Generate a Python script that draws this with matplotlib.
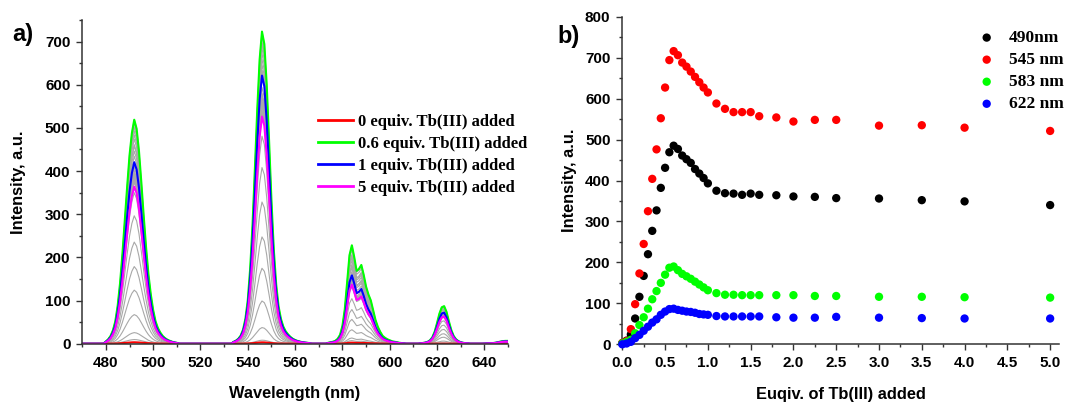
import numpy as np
import matplotlib.pyplot as plt
from matplotlib.ticker import MultipleLocator

# equivalents of Tb(III) added at each titration step
equiv = [0, 0.05, 0.1, 0.15, 0.2, 0.25, 0.3, 0.35, 0.4, 0.45, 0.5,
         0.55, 0.6, 0.65, 0.7, 0.75, 0.8, 0.85, 0.9, 0.95, 1.0,
         1.1, 1.2, 1.3, 1.4, 1.5, 1.6, 1.8, 2.0, 2.25, 2.5,
         3.0, 3.5, 4.0, 5.0]

# emission intensity at the four Tb(III) bands
i490 = [3, 9, 24, 63, 116, 167, 220, 277, 327, 382, 431,
        469, 485, 477, 461, 452, 443, 428, 417, 406, 393,
        375, 369, 368, 365, 368, 365, 364, 361, 360, 357,
        356, 352, 349, 340]
i545 = [3, 8, 37, 98, 173, 245, 325, 404, 476, 552, 627,
        694, 716, 706, 688, 678, 666, 653, 640, 627, 615,
        588, 575, 567, 567, 567, 557, 554, 544, 548, 548,
        534, 535, 529, 521]
i583 = [2, 6, 11, 27, 47, 66, 87, 110, 130, 150, 170,
        187, 190, 181, 172, 166, 160, 153, 146, 139, 132,
        125, 121, 121, 120, 120, 120, 120, 120, 118, 118,
        116, 116, 115, 114]
i622 = [0, 2, 6, 15, 23, 33, 43, 53, 61, 72, 80,
        86, 87, 84, 82, 80, 79, 77, 74, 73, 72,
        69, 68, 68, 68, 68, 68, 66, 65, 65, 67,
        65, 64, 63, 63]

# normalised band shapes, 1 nm steps, first value at the given wavelength
shape_490 = [0.01, 0.02, 0.035, 0.06, 0.10, 0.17, 0.27, 0.40, 0.55, 0.70,
             0.84, 0.94, 1.00, 0.96, 0.86, 0.72, 0.57, 0.43, 0.31, 0.22,
             0.15, 0.10, 0.07, 0.05, 0.035, 0.025, 0.018, 0.013, 0.009,
             0.006, 0.004]
shape_545 = [0.006, 0.01, 0.016, 0.026, 0.045, 0.08, 0.14, 0.24, 0.38, 0.56,
             0.75, 0.91, 1.00, 0.96, 0.83, 0.65, 0.46, 0.30, 0.19, 0.12,
             0.08, 0.055, 0.04, 0.03, 0.022, 0.016, 0.012, 0.009, 0.007,
             0.005, 0.004, 0.003, 0.002]
shape_583 = [0.01, 0.015, 0.02, 0.03, 0.05, 0.09, 0.18, 0.35, 0.62, 0.90,
             1.00, 0.88, 0.74, 0.76, 0.80, 0.70, 0.58, 0.50, 0.44, 0.34,
             0.24, 0.17, 0.12, 0.08, 0.06, 0.045, 0.035, 0.025, 0.02, 0.015,
             0.01, 0.007, 0.005]
shape_622 = [0.01, 0.02, 0.03, 0.05, 0.09, 0.17, 0.32, 0.55, 0.80, 0.97,
             1.00, 0.85, 0.60, 0.37, 0.21, 0.12, 0.07, 0.04, 0.025, 0.015,
             0.01]
shape_650 = [0.005, 0.007, 0.01, 0.015, 0.02, 0.03, 0.045, 0.06, 0.07, 0.075,
             0.075]

# (start nm, shape, intensities, peak maximum / fixed-wavelength reading)
bands = [(480, shape_490, i490, 1.07),
         (534, shape_545, i545, 1.01),
         (574, shape_583, i583, 1.2),
         (613, shape_622, i622, 1.0),
         (640, shape_650, i622, 1.0)]

wl = np.arange(470, 651)


def spectrum(k):
    s = np.zeros(len(wl))
    for start, shape, heights, scale in bands:
        j = start - 470
        s[j:j + len(shape)] += np.array(shape) * heights[k] * scale
    return s


tick_font = dict(family='Liberation Sans', weight='bold', size=11)
label_font = dict(family='Liberation Sans', weight='bold', size=11.8)

fig = plt.figure(figsize=(10.72, 4.03), dpi=100)
W, H = 1072, 403
ax1 = fig.add_axes([82.2 / W, 1 - 343.7 / H, (508 - 82.2) / W, (343.7 - 20) / H])
ax2 = fig.add_axes([622.3 / W, 1 - 344.3 / H, (1058.7 - 622.3) / W, (344.3 - 16.7) / H])

# a) emission spectra along the titration
for k in range(len(equiv)):
    ax1.plot(wl, spectrum(k), color='#a8a8a8', lw=0.8, zorder=1)

highlight = [(0, '#ff0000', '0 equiv. Tb(III) added'),
             (12, '#00ff00', '0.6 equiv. Tb(III) added'),
             (20, '#0000ff', '1 equiv. Tb(III) added'),
             (34, '#ff00ff', '5 equiv. Tb(III) added')]
for k, c, lab in highlight:
    ax1.plot(wl, spectrum(k), color=c, lw=1.5, label=lab, zorder=2)

ax1.set_xlim(470, 650)
ax1.set_ylim(0, 750)
ax1.xaxis.set_minor_locator(MultipleLocator(10))
ax1.yaxis.set_major_locator(MultipleLocator(100))
ax1.yaxis.set_minor_locator(MultipleLocator(50))
ax1.set_xticks([480, 500, 520, 540, 560, 580, 600, 620, 640])

leg1 = ax1.legend(loc='upper left', bbox_to_anchor=(318 / W, 1 - 113.5 / H),
                  bbox_transform=fig.transFigure, frameon=False,
                  borderpad=0, borderaxespad=0, handlelength=2.1,
                  handletextpad=0.28, labelspacing=0.36,
                  prop=dict(family='Liberation Serif', weight='bold', size=12))
for line in leg1.get_lines():
    line.set_linewidth(2)

ax1.set_xlabel('Wavelength (nm)', **label_font)
ax1.set_ylabel('Intensity, a.u.', **label_font)
ax1.xaxis.set_label_coords(0.5, -0.13)
ax1.yaxis.set_label_coords(-0.132, 0.5)

# b) intensity at each band versus added Tb(III)
series = [(i490, 'black', '490nm'),
          (i545, '#ff0000', '545 nm'),
          (i583, '#00ff00', '583 nm'),
          (i622, '#0000ff', '622 nm')]
for vals, c, lab in series:
    ax2.scatter(equiv, vals, s=36, color=c, edgecolors='none', label=lab,
                zorder=3, clip_on=False)

ax2.set_xlim(0, 5.1)
ax2.set_ylim(0, 800)
ax2.xaxis.set_major_locator(MultipleLocator(0.5))
ax2.xaxis.set_minor_locator(MultipleLocator(0.25))
ax2.yaxis.set_major_locator(MultipleLocator(100))
ax2.yaxis.set_minor_locator(MultipleLocator(50))
ax2.xaxis.set_major_formatter(plt.FormatStrFormatter('%.1f'))

ax2.legend(loc='upper left', bbox_to_anchor=(978 / W, 1 - 30 / H),
           bbox_transform=fig.transFigure, frameon=False,
           borderpad=0, borderaxespad=0, handlelength=1.0,
           handletextpad=0.77, labelspacing=0.34, scatterpoints=1,
           prop=dict(family='Liberation Serif', weight='bold', size=12.5))

ax2.set_xlabel('Euqiv. of Tb(III) added', **label_font)
ax2.set_ylabel('Intensity, a.u.', **label_font)
ax2.xaxis.set_label_coords(0.5, -0.13)
ax2.yaxis.set_label_coords(-0.104, 0.5)

for ax in (ax1, ax2):
    for side in ('top', 'right'):
        ax.spines[side].set_visible(False)
    for side in ('left', 'bottom'):
        ax.spines[side].set_linewidth(1.1)
        ax.spines[side].set_color('#333333')
    ax.tick_params(which='major', direction='out', length=4, width=1.0,
                   pad=4.5, color='#333333')
    ax.tick_params(which='minor', direction='out', length=2.5, width=1.0,
                   color='#333333')
    for t in ax.get_xticklabels() + ax.get_yticklabels():
        t.set_fontproperties(tick_font)

fig.text(12 / W, 1 - 34 / H, 'a)', family='Liberation Sans', weight='bold',
         size=17, va='center')
fig.text(557 / W, 1 - 37 / H, 'b)', family='Liberation Sans', weight='bold',
         size=17, va='center')

fig.savefig('out.png', dpi=100)
